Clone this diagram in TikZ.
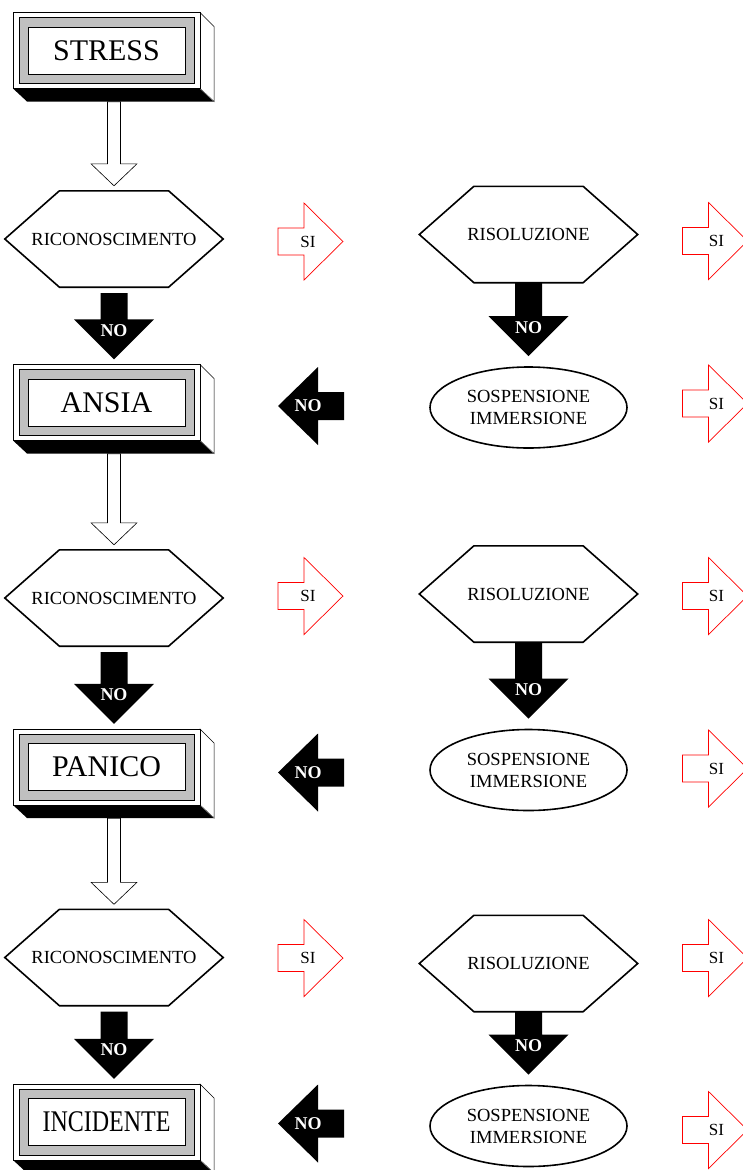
\documentclass[tikz,border=0pt]{standalone}
\usepackage{fontspec}
\setmainfont{Liberation Serif}
\usepackage{graphicx}
\usetikzlibrary{calc,shapes.geometric}
\definecolor{band}{HTML}{C0C0C0}

\tikzset{
 stagetext/.style={font=\fontsize{30}{36}\selectfont,minimum width=187pt,minimum height=76pt,inner sep=0pt},
 hexa/.style={font=\fontsize{18.5}{22}\selectfont,minimum width=218pt,minimum height=96pt,inner sep=0pt},
 hexline/.style={line width=1.6pt},
 oval/.style={ellipse,draw,line width=1.6pt,minimum width=197pt,minimum height=81pt,inner sep=0pt,align=center,font=\fontsize{18.5}{22}\selectfont},
 hollow/.style={draw,fill=white,line width=.6pt},
 siline/.style={draw=red,fill=white,line width=.7pt},
 sitext/.style={font=\fontsize{17}{20}\selectfont},
 notext/.style={text=white,font=\bfseries\fontsize{18}{20}\selectfont,inner sep=0pt}
}

% 3d frame with grey band
\newcommand\stage[3]{%
 \begin{scope}[shift={(106.5,#2)}]
  \fill (-93.5,38) -- (-79.5,51) -- (107.5,51) -- (93.5,38) -- cycle;
  \draw[fill=white,line width=.5pt] (93.5,-38) -- (107.5,-24) -- (107.5,51) -- (93.5,38) -- cycle;
  \draw[gray,line width=.5pt] (93.5,38) -- (107.5,51);
  \draw[fill=white,line width=.5pt] (-93.5,-38) rectangle (93.5,38);
  \draw[fill=band,line width=.5pt] (-87.5,-33) rectangle (87.5,33);
  \draw[fill=white,line width=.5pt] (-78.5,-23.5) rectangle (78.5,23.5);
 \end{scope}
 \node[stagetext] (#1) at (106.5,#2) {#3};}

% hexagon round a label
\newcommand\hexat[4]{%
 \node[hexa] (#1) at (#2,#3) {#4};
 \draw[hexline] (#1.west) -- ($(#1.north west)!.25!(#1.north east)$) -- ($(#1.north west)!.75!(#1.north east)$)
  -- (#1.east) -- ($(#1.south west)!.75!(#1.south east)$) -- ($(#1.south west)!.25!(#1.south east)$) -- cycle;}

% hollow arrow down
\newcommand\downwhite[2]{%
 \draw[hollow] let \p1=(#1), \p2=(#2) in
  (\x2-6.5pt,\y1) -- (\x2-6.5pt,\y2+22pt) -- (\x2-23pt,\y2+22pt) -- (\x2,\y2)
  -- (\x2+23pt,\y2+22pt) -- (\x2+6.5pt,\y2+22pt) -- (\x2+6.5pt,\y1) -- cycle;}

% black NO arrow down
\newcommand\downno[3]{%
 \fill let \p1=(#2), \p2=(#3) in
  (\x1-13.5pt,\y1) -- (\x1-13.5pt,\y2+40pt) -- (\x1-40pt,\y2+40pt) -- (\x1,\y2)
  -- (\x1+40pt,\y2+40pt) -- (\x1+13.5pt,\y2+40pt) -- (\x1+13.5pt,\y1) -- cycle
  (\x1,\y2+29pt) node[notext] (#1) {NO};}

% black NO arrow to the left
\newcommand\backno[3]{%
 \fill[shift={(#2,#3)}] (0,0) -- (40,-39) -- (40,-14) -- (66,-14) -- (66,14) -- (40,14) -- (40,39) -- cycle;
 \node[notext] (#1) at (#2+30,#3) {NO};}

% red SI arrow
\newcommand\siarrow[4]{%
 \draw[siline,shift={(#2,#3)}] (0,-13.5) -- (26,-13.5) -- (26,-38.5) -- (65,0) -- (26,38.5) -- (26,13.5) -- (0,13.5) -- cycle;
 \node[sitext] (#1) at (#2+#4,#3) {SI};}

\begin{document}
\begin{tikzpicture}[x=1pt,y=-1pt]
\useasboundingbox (0,0) rectangle (743,1170);
\clip (0,0) rectangle (743,1170);

% stages
\stage{stress}{50.5}{STRESS}
\stage{ansia}{402.5}{ANSIA}
\stage{panico}{767}{PANICO}
\stage{incidente}{1122}{\scalebox{.8}[1]{INCIDENTE}}

% recognition
\hexat{ric1}{114}{239}{RICONOSCIMENTO}
\hexat{ric2}{114}{598}{RICONOSCIMENTO}
\hexat{ric3}{114}{957.5}{RICONOSCIMENTO}

% resolution
\hexat{ris1}{528.5}{234.5}{RISOLUZIONE}
\hexat{ris2}{528.5}{594}{RISOLUZIONE}
\hexat{ris3}{528.5}{963.5}{RISOLUZIONE}

\node[oval] (sosp1) at (528.5,407.5) {SOSPENSIONE\\IMMERSIONE};
\node[oval] (sosp2) at (528.5,770) {SOSPENSIONE\\IMMERSIONE};
\node[oval] (sosp3) at (528.5,1126) {SOSPENSIONE\\IMMERSIONE};

\downwhite{$(stress.south)+(0,13)$}{$(ric1.north)+(0,-5)$}
\downwhite{$(ansia.south)+(0,13)$}{$(ric2.north)+(0,-5)$}
\downwhite{$(panico.south)+(0,13)$}{$(ric3.north)+(0,-5)$}

\downno{no1}{$(ric1.south)+(0,6)$}{$(ansia.north)+(0,-5)$}
\downno{no2}{$(ric2.south)+(0,6)$}{$(panico.north)+(0,-5)$}
\downno{no3}{$(ric3.south)+(0,6)$}{$(incidente.north)+(0,-5)$}
\downno{no4}{ris1.south}{$(sosp1.north)+(0,-10)$}
\downno{no5}{ris2.south}{$(sosp2.north)+(0,-10)$}
\downno{no6}{ris3.south}{$(sosp3.north)+(0,-10)$}

\backno{back1}{278}{406}
\backno{back2}{278}{772.5}
\backno{back3}{278}{1123.5}

\siarrow{si1}{278}{241.5}{30}
\siarrow{si2}{278}{596}{30}
\siarrow{si3}{278}{958}{30}
\siarrow{si4}{682.5}{241}{34}
\siarrow{si5}{682.5}{596}{34}
\siarrow{si6}{682.5}{958}{34}
\siarrow{si7}{682.5}{403.5}{34}
\siarrow{si8}{682.5}{768.5}{34}
\siarrow{si9}{682.5}{1130}{34}
\end{tikzpicture}
\end{document}
